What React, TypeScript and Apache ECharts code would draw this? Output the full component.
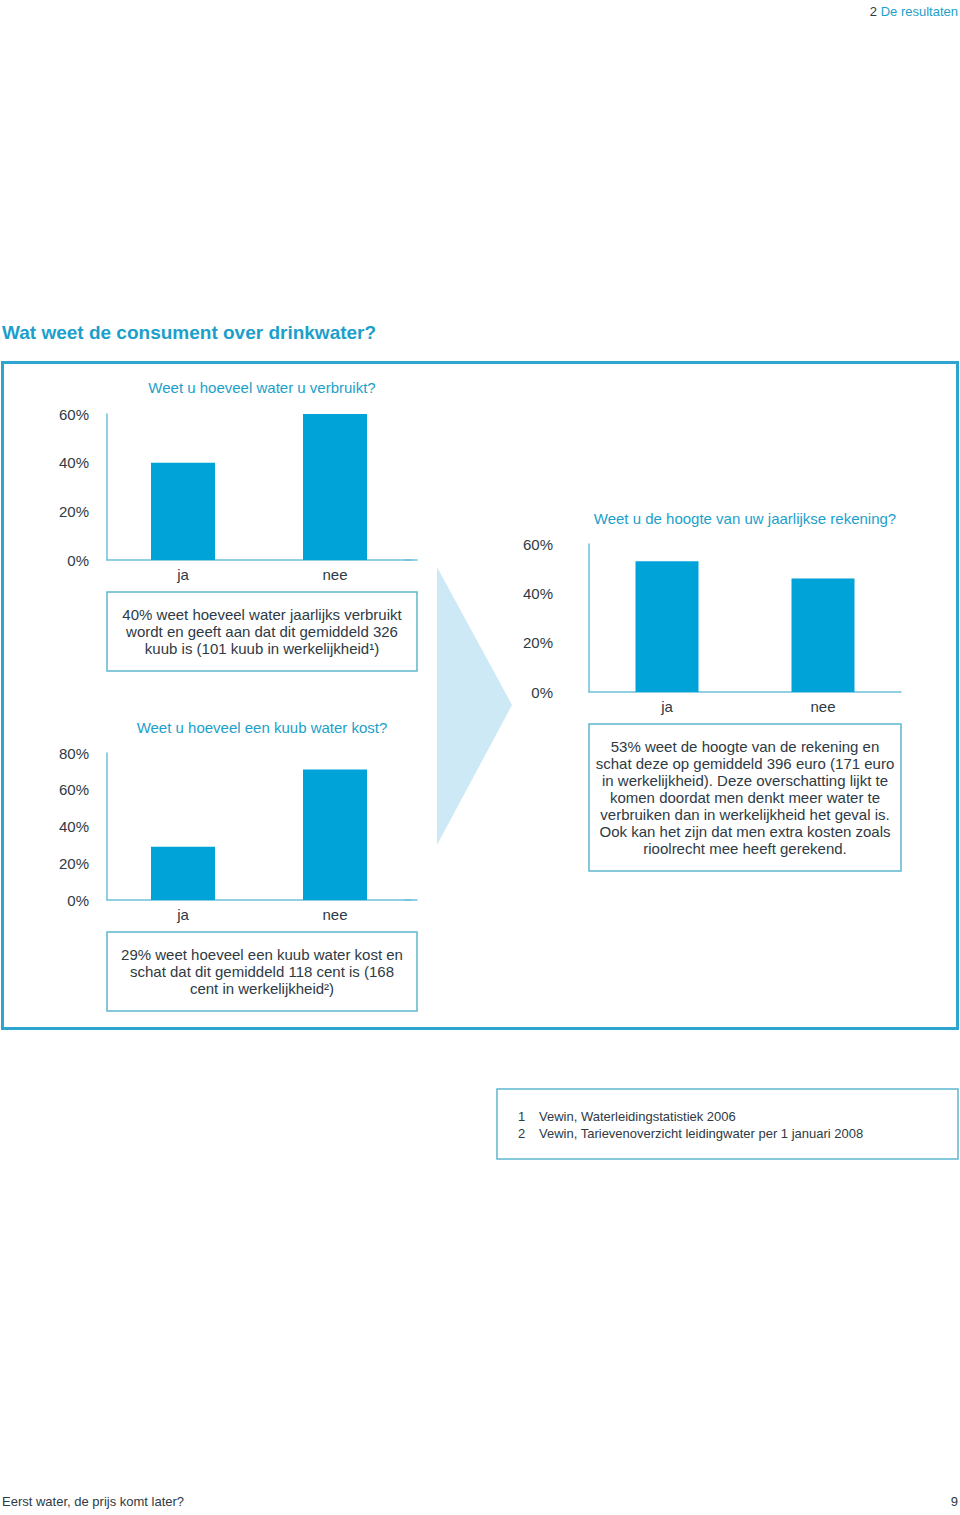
import React, { useEffect, useRef } from "react";
import * as echarts from "echarts";

const categories = ["ja", "nee"];
const usageValues = [40, 60];
const billValues = [53, 46];
const priceValues = [29, 71];

const usageTitle = "Weet u hoeveel water u verbruikt?";
const billTitle = "Weet u de hoogte van uw jaarlijkse rekening?";
const priceTitle = "Weet u hoeveel een kuub water kost?";

const usageNote = [
  "40% weet hoeveel water jaarlijks verbruikt",
  "wordt en geeft aan dat dit gemiddeld 326",
  "kuub is (101 kuub in werkelijkheid\u00b9)",
];
const billNote = [
  "53% weet de hoogte van de rekening en",
  "schat deze op gemiddeld 396 euro (171 euro",
  "in werkelijkheid). Deze overschatting lijkt te",
  "komen doordat men denkt meer water te",
  "verbruiken dan in werkelijkheid het geval is.",
  "Ook kan het zijn dat men extra kosten zoals",
  "rioolrecht mee heeft gerekend.",
];
const priceNote = [
  "29% weet hoeveel een kuub water kost en",
  "schat dat dit gemiddeld 118 cent is (168",
  "cent in werkelijkheid\u00b2)",
];
const footnotes = [
  ["1", "Vewin, Waterleidingstatistiek 2006"],
  ["2", "Vewin, Tarievenoverzicht leidingwater per 1 januari 2008"],
];

const FONT = "'Liberation Sans', Arial, Helvetica, sans-serif";
const DARK = "#2e3a44";
const TEAL = "#1c9fcb";
const BAR = "#00a3d8";
const AXIS = "#6cc0db";
const BOX = "#5db7cd";
const FRAME = "#2ea5cf";

function App() {
  const ref = useRef<HTMLDivElement>(null);
  useEffect(() => {
    document.body.style.margin = "0";
    if (!ref.current) return;
    const chart = echarts.init(ref.current, undefined, { renderer: "svg" });

    const mkX = (gridIndex: number, extend: boolean) => ({
      type: "category",
      gridIndex,
      data: categories,
      axisLine: {
        show: true,
        lineStyle: { color: AXIS, width: 1.5 },
        symbol: extend ? ["none", "rect"] : ["none", "none"],
        symbolSize: [1.5, 13],
      },
      axisTick: { show: false },
      axisLabel: { color: DARK, fontSize: 15, fontFamily: FONT, margin: 7 },
    });
    const mkY = (gridIndex: number, max: number, margin: number) => ({
      type: "value",
      gridIndex,
      min: 0,
      max,
      interval: 20,
      axisLine: { show: true, lineStyle: { color: AXIS, width: 1.5 } },
      axisTick: { show: false },
      splitLine: { show: false },
      axisLabel: {
        color: DARK,
        fontSize: 15,
        fontFamily: FONT,
        margin,
        formatter: "{value}%",
      },
    });
    const mkBar = (idx: number, data: number[], w: number) => ({
      type: "bar",
      xAxisIndex: idx,
      yAxisIndex: idx,
      data,
      barWidth: w,
      itemStyle: { color: BAR },
      silent: true,
    });

    const textBox = (
      x: number,
      y: number,
      w: number,
      h: number,
      lines: string[],
      firstLineY: number
    ) => [
      {
        type: "rect",
        shape: { x, y, width: w, height: h },
        style: { fill: "#fff", stroke: BOX, lineWidth: 1.5 },
      },
      {
        type: "text",
        x: x + w / 2,
        y: firstLineY - 8.5,
        style: {
          text: lines.join("\n"),
          fill: DARK,
          font: `15px ${FONT}`,
          textAlign: "center",
          textVerticalAlign: "top",
          lineHeight: 17,
        },
      },
    ];

    const option: any = {
      animation: false,
      backgroundColor: "#ffffff",
      grid: [
        { left: 107, top: 414, width: 304, height: 146 },
        { left: 589, top: 544, width: 312, height: 148 },
        { left: 107, top: 753, width: 304, height: 147 },
      ],
      xAxis: [mkX(0, true), mkX(1, false), mkX(2, true)],
      yAxis: [mkY(0, 60, 18), mkY(1, 60, 36), mkY(2, 80, 18)],
      series: [
        mkBar(0, usageValues, 64),
        mkBar(1, billValues, 63),
        mkBar(2, priceValues, 64),
      ],
      graphic: [
        {
          type: "rect",
          shape: { x: 2.5, y: 362.5, width: 955, height: 666 },
          style: { fill: "none", stroke: FRAME, lineWidth: 3 },
          z: -1,
        },
        {
          type: "polygon",
          shape: { points: [[437, 567], [512, 705], [437, 845]] },
          style: { fill: "#cde9f5" },
        },
        {
          type: "text",
          x: 958,
          y: 11,
          style: {
            text: "{n|2 }{t|De resultaten}",
            textAlign: "right",
            textVerticalAlign: "middle",
            rich: {
              n: { fill: DARK, font: `13px ${FONT}` },
              t: { fill: TEAL, font: `13px ${FONT}` },
            },
          },
        },
        {
          type: "text",
          x: 2,
          y: 332,
          style: {
            text: "Wat weet de consument over drinkwater?",
            fill: TEAL,
            font: `bold 19px ${FONT}`,
            textVerticalAlign: "middle",
          },
        },
        {
          type: "text",
          x: 262,
          y: 387,
          style: {
            text: usageTitle,
            fill: TEAL,
            font: `15px ${FONT}`,
            textAlign: "center",
            textVerticalAlign: "middle",
          },
        },
        {
          type: "text",
          x: 745,
          y: 518,
          style: {
            text: billTitle,
            fill: TEAL,
            font: `15px ${FONT}`,
            textAlign: "center",
            textVerticalAlign: "middle",
          },
        },
        {
          type: "text",
          x: 262,
          y: 727,
          style: {
            text: priceTitle,
            fill: TEAL,
            font: `15px ${FONT}`,
            textAlign: "center",
            textVerticalAlign: "middle",
          },
        },
        ...textBox(107, 592, 310, 79, usageNote, 614),
        ...textBox(589, 724, 312, 147, billNote, 746),
        ...textBox(107, 932, 310, 79, priceNote, 954),
        {
          type: "rect",
          shape: { x: 497, y: 1089, width: 461, height: 70 },
          style: { fill: "#fff", stroke: BOX, lineWidth: 1.5 },
        },
        ...footnotes.flatMap((f, i) => [
          {
            type: "text",
            x: 518,
            y: 1116 + i * 17,
            style: {
              text: f[0],
              fill: DARK,
              font: `13px ${FONT}`,
              textVerticalAlign: "middle",
            },
          },
          {
            type: "text",
            x: 539,
            y: 1116 + i * 17,
            style: {
              text: f[1],
              fill: DARK,
              font: `13px ${FONT}`,
              textVerticalAlign: "middle",
            },
          },
        ]),
        {
          type: "text",
          x: 2,
          y: 1501,
          style: {
            text: "Eerst water, de prijs komt later?",
            fill: DARK,
            font: `13px ${FONT}`,
            textVerticalAlign: "middle",
          },
        },
        {
          type: "text",
          x: 958,
          y: 1501,
          style: {
            text: "9",
            fill: DARK,
            font: `13px ${FONT}`,
            textAlign: "right",
            textVerticalAlign: "middle",
          },
        },
      ],
    };
    chart.setOption(option);
    return () => chart.dispose();
  }, []);
  return <div ref={ref} style={{ width: 960, height: 1515 }} />;
}

export default App;
